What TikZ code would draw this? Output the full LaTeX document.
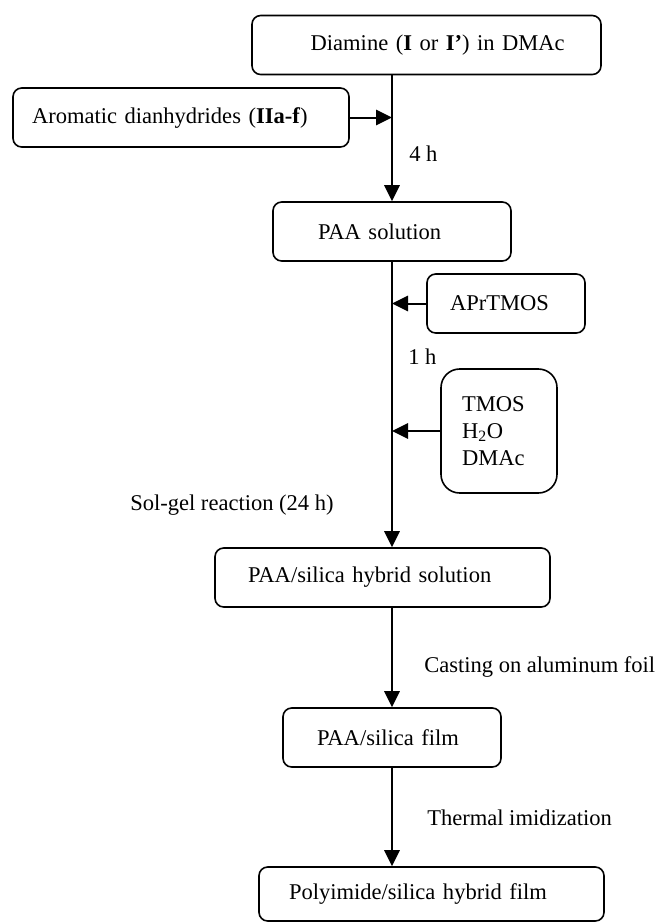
\documentclass[tikz,border=0pt]{standalone}
\usepackage{fontspec}
\setmainfont{Liberation Serif}
\usetikzlibrary{calc}
\usetikzlibrary{arrows.meta}

\begin{document}
\begin{tikzpicture}[x=0.75pt, y=-0.75pt,
    font=\fontsize{16.9pt}{20.3pt}\selectfont,
    box/.style 2 args={draw, line width=1.2pt, rounded corners=6.5pt,
      align=left, text width=#1, inner xsep=#2, minimum height=44.25pt},
    flow/.style={line width=1.5pt, -{Triangle[length=12pt, width=11.5pt]}},
    note/.style={anchor=west, inner sep=0pt}]
  \useasboundingbox (0,0) rectangle (657,922);

  % Reagenti di partenza
  \node[box={173.75pt}{44pt}] (diamine) at (426.5,45) {\mbox{Diamine (\textbf{I} or \textbf{I'}) in DMAc}};
  \node[box={223.5pt}{14.25pt}] (dianhydride) at (181,117.5) {Aromatic dianhydrides (\textbf{IIa-f})};

  % Soluzione di PAA e aggiunte
  \node[box={111pt}{33.75pt}] (paa) at (392,231.5) {PAA solution};
  \node[box={84pt}{17.25pt}] (aprtmos) at (506,303.5) {APrTMOS};
  \node[box={55.5pt}{15.75pt}, minimum height=93pt, rounded corners=14pt] (tmos) at (499,431) {TMOS\\H\textsubscript{2}O\\DMAc};

  % Ibrido, film e poliimmide
  \node[box={201.75pt}{24.75pt}] (hybrid) at (382.5,577.5) {PAA/silica hybrid solution};
  \node[box={112.5pt}{25.5pt}] (film) at (392,737.5) {PAA/silica film};
  \node[box={213.75pt}{22.5pt}, minimum height=40.5pt] (pifilm) at (431.5,894) {Polyimide/silica hybrid film};

  % Frecce
  \draw[flow] (diamine.south -| paa.north) -- (paa.north);
  \draw[flow] (dianhydride.east) -- (dianhydride.east -| paa.north);
  \draw[flow] (paa.south) -- (paa.south |- hybrid.north);
  \draw[flow] (aprtmos.west) -- (aprtmos.west -| paa.south);
  \draw[flow] (tmos.west) -- (tmos.west -| paa.south);
  \draw[flow] (hybrid.south -| film.north) -- (film.north);
  \draw[flow] (film.south) -- (film.south |- pifilm.north);

  % Condizioni
  \node[note] (time4) at (409,154) {4 h};
  \node[note] (time1) at (408,357) {1 h};
  \node[note] (solgel) at (130,505) {Sol-gel reaction (24 h)};
  \node[note] (casting) at (424,667) {Casting on aluminum foil};
  \node[note] (imid) at (427,818) {Thermal imidization};
\end{tikzpicture}
\end{document}
